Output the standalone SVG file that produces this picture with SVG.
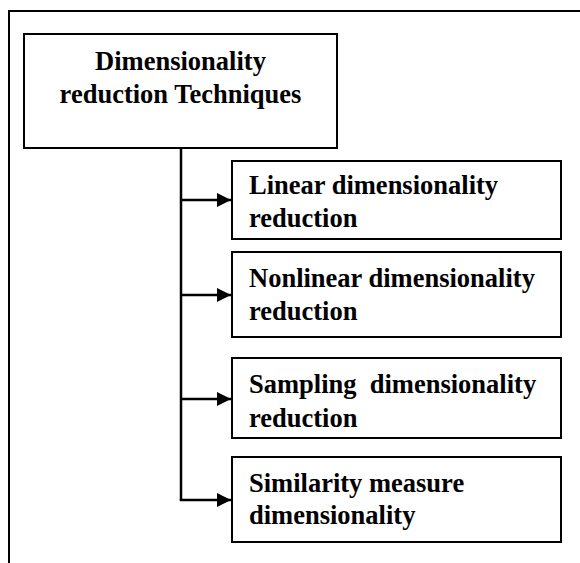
<svg xmlns="http://www.w3.org/2000/svg" width="580" height="563" viewBox="0 0 580 563">
<style>
.box{fill:#fff;stroke:#000;stroke-width:2}
.t{font-family:"Liberation Serif","Times New Roman",serif;font-weight:bold;font-size:26.5px;fill:#000}
.c{stroke:#000;stroke-width:2.5;fill:none}
</style>
<defs>
<marker id="ah" viewBox="0 0 10 10" refX="10" refY="5" markerWidth="6" markerHeight="5.6" markerUnits="strokeWidth" orient="auto">
<path d="M0,0 L10,5 L0,10 Z" fill="#000"/>
</marker>
</defs>
<rect x="9" y="11" width="620" height="620" fill="#fff" stroke="#000" stroke-width="2"/>
<g id="main">
<rect class="box" x="24" y="34" width="313" height="114"/>
<text class="t" x="180.5" y="70" text-anchor="middle">Dimensionality</text>
<text class="t" x="180.5" y="103" text-anchor="middle">reduction Techniques</text>
</g>
<g id="linear">
<rect class="box" x="232" y="161" width="329" height="78"/>
<text class="t" x="249" y="194">Linear dimensionality</text>
<text class="t" x="249" y="227">reduction</text>
</g>
<g id="nonlinear">
<rect class="box" x="232" y="252" width="329" height="85"/>
<text class="t" x="249" y="287">Nonlinear dimensionality</text>
<text class="t" x="249" y="320">reduction</text>
</g>
<g id="sampling">
<rect class="box" x="232" y="358" width="329" height="80"/>
<text class="t" x="249" y="393" xml:space="preserve" style="white-space:pre">Sampling  dimensionality</text>
<text class="t" x="249" y="427">reduction</text>
</g>
<g id="similarity">
<rect class="box" x="232" y="457" width="329" height="85"/>
<text class="t" x="249" y="492">Similarity measure</text>
<text class="t" x="249" y="524">dimensionality</text>
</g>
<g id="connectors">
<path class="c" d="M181,148 V500"/>
<path class="c" d="M181,200 H231" marker-end="url(#ah)"/>
<path class="c" d="M181,295 H231" marker-end="url(#ah)"/>
<path class="c" d="M181,399 H231" marker-end="url(#ah)"/>
<path class="c" d="M179.75,500 H231" marker-end="url(#ah)"/>
</g>
</svg>
